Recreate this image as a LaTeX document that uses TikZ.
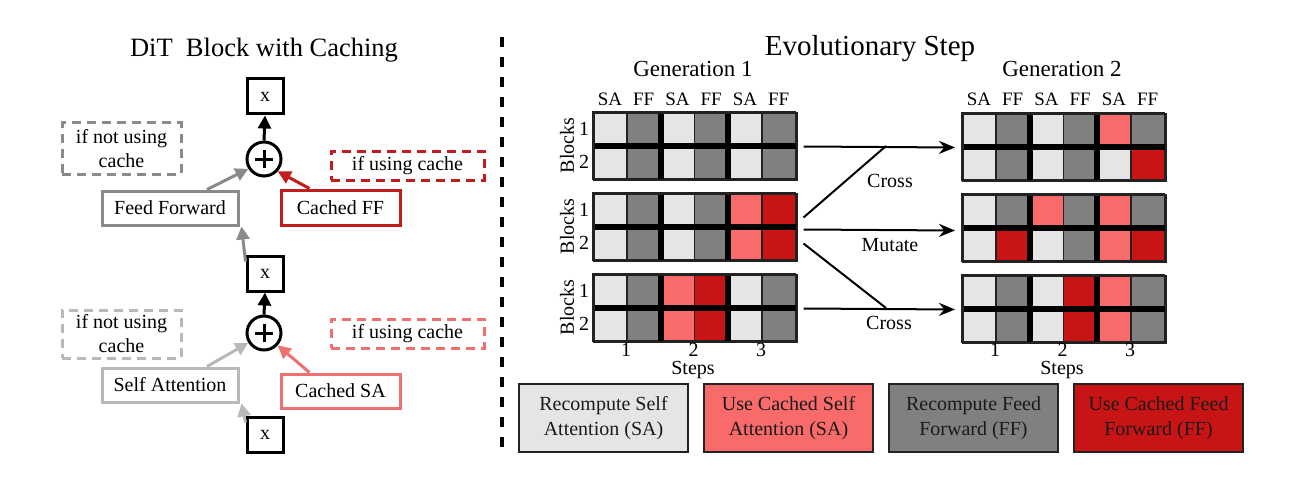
\documentclass[tikz,border=0pt]{standalone}
\usepackage{fontspec}
\setmainfont{Liberation Serif}
\usetikzlibrary{arrows.meta,calc}
\definecolor{cLG}{HTML}{E5E5E5}
\definecolor{cDG}{HTML}{808080}
\definecolor{cLR}{HTML}{F96B6B}
\definecolor{cDR}{HTML}{C81414}
\definecolor{bGray}{HTML}{8A8A8A}
\definecolor{bLGray}{HTML}{B8B8B8}
\definecolor{bRed}{HTML}{C21C1C}
\definecolor{bLRed}{HTML}{EE7070}
\definecolor{gridline}{HTML}{222222}
\definecolor{legtxt}{HTML}{1A1A1A}
\newcommand{\mygrid}[5]{%
 \foreach \c [count=\i from 0] in {#4} {\filldraw[fill=\c, draw=gridline, line width=1.5] ({#2+\i*33.75},{#3}) rectangle ++(33.75,33.5);}
 \foreach \c [count=\i from 0] in {#5} {\filldraw[fill=\c, draw=gridline, line width=1.5] ({#2+\i*33.75},{#3+33.5}) rectangle ++(33.75,33.5);}
 \draw[line width=6] (#2,#3+33.5) -- ++(202.5,0);
 \draw[line width=6] ({#2+67.5},#3) -- ++(0,67);
 \draw[line width=6] ({#2+135},#3) -- ++(0,67);
 \node[draw=gridline, line width=2, minimum width=202.5, minimum height=67, inner sep=0, anchor=north west] (#1) at (#2,#3) {};
}
\begin{document}
\begin{tikzpicture}[x=1pt,y=-1pt,
  txt/.style={font=\fontsize{20}{24}\selectfont, inner sep=0},
  xbox/.style={draw, line width=3, minimum width=36, minimum height=35, inner sep=0, font=\fontsize{20}{24}\selectfont},
  plusc/.style={draw, circle, line width=3, minimum size=34, inner sep=0},
  opbox/.style={draw, line width=3, inner sep=0, font=\fontsize{20}{24}\selectfont, align=center},
  condbox/.style={draw, line width=3, dash pattern=on 9 off 6, inner sep=0, font=\fontsize{20}{24}\selectfont, align=center},
  larrow/.style={line width=3, -{Triangle[length=13,width=13]}},
  evo/.style={line width=2, -{Stealth[length=16,width=13]}},
  evol/.style={line width=2},
  legbox/.style={draw=gridline, line width=2, minimum width=169, minimum height=68, inner sep=0, align=center, text=legtxt, font=\fontsize{20}{25}\selectfont},
  hdr/.style={font=\fontsize{19}{22}\selectfont, inner sep=0},
]
\useasboundingbox (0,0) rectangle (1300,492);
\fill[white] (0,0) rectangle (1300,492);

% ---------------- left panel ----------------
\node[font=\fontsize{26.5}{30}\selectfont, anchor=base, inner sep=0] (ltitle) at (264,57) {DiT\ \ Block with Caching};

\node[xbox] (topx) at (265,96.5) {x};
\node[plusc] (p1) at (264,159) {};
\draw[line width=3] ([xshift=-9]p1.center) -- ([xshift=9]p1.center) ([yshift=-9]p1.center) -- ([yshift=9]p1.center);
\node[condbox, draw=bGray, minimum width=119, minimum height=51] (nc1) at (121.5,148.5) {if not using\\cache};
\node[condbox, draw=bRed, minimum width=153, minimum height=29] (uc1) at (407.5,165.5) {if using cache};
\node[opbox, draw=bGray, minimum width=136, minimum height=34] (ff) at (170,208) {Feed Forward};
\node[opbox, draw=bRed, minimum width=119, minimum height=35] (cff) at (340.5,207.5) {Cached FF};
\node[xbox] (midx) at (265,273.5) {x};
\node[plusc] (p2) at (264,333) {};
\draw[line width=3] ([xshift=-9]p2.center) -- ([xshift=9]p2.center) ([yshift=-9]p2.center) -- ([yshift=9]p2.center);
\node[condbox, draw=bLGray, minimum width=119, minimum height=48] (nc2) at (121.5,334) {if not using\\cache};
\node[condbox, draw=bLRed, minimum width=153, minimum height=29] (uc2) at (407.5,333.5) {if using cache};
\node[opbox, draw=bLGray, minimum width=136, minimum height=34] (sa) at (170,385) {Self Attention};
\node[opbox, draw=bLRed, minimum width=119, minimum height=34] (csa) at (340.5,391) {Cached SA};
\node[xbox] (botx) at (265,434.5) {x};

\draw[larrow] (p1.north) -- (topx.south);
\draw[larrow, bGray] ([xshift=37]ff.north) -- (p1.212);
\draw[larrow, bRed] ([xshift=-31]cff.north) -- (p1.-42);
\draw[larrow, bGray] ([yshift=-7]midx.north west) -- ([xshift=2]ff.south east);
\draw[larrow] (p2.north) -- (midx.south);
\draw[larrow, bLGray] ([xshift=37]sa.north) -- (p2.212);
\draw[larrow, bLRed] ([xshift=-31]csa.north) -- (p2.-42);
\draw[larrow, bLGray] ([yshift=-7]botx.north west) -- ([xshift=2]sa.south east);

% divider
\draw[line width=3.5, dash pattern=on 10 off 10] (502,37) -- (502,452);

% ---------------- right panel ----------------
\node[font=\fontsize{29}{33}\selectfont, anchor=base, inner sep=0] (rtitle) at (870,56) {Evolutionary Step};
\node[font=\fontsize{23}{27}\selectfont, anchor=base, inner sep=0] (gen1) at (693,77) {Generation 1};
\node[font=\fontsize{23}{27}\selectfont, anchor=base, inner sep=0] (gen2) at (1062,77) {Generation 2};

\foreach \t [count=\i from 0] in {SA,FF,SA,FF,SA,FF} {
  \node[hdr, anchor=base] (ha\i) at ({593+16.9+\i*33.75},106) {\t};
  \node[hdr, anchor=base] (hb\i) at ({962+16.9+\i*33.75},106) {\t};
}

\mygrid{g11}{593}{112}{cLG,cDG,cLG,cDG,cLG,cDG}{cLG,cDG,cLG,cDG,cLG,cDG}
\mygrid{g12}{593}{193}{cLG,cDG,cLG,cDG,cLR,cDR}{cLG,cDG,cLG,cDG,cLR,cDR}
\mygrid{g13}{593}{274}{cLG,cDG,cLR,cDR,cLG,cDG}{cLG,cDG,cLR,cDR,cLG,cDG}
\mygrid{g21}{962}{113}{cLG,cDG,cLG,cDG,cLR,cDG}{cLG,cDG,cLG,cDG,cLG,cDR}
\mygrid{g22}{962}{194}{cLG,cDG,cLR,cDG,cLR,cDG}{cLG,cDR,cLG,cDG,cLR,cDR}
\mygrid{g23}{962}{275}{cLG,cDG,cLG,cDR,cLR,cDG}{cLG,cDG,cLG,cDR,cLR,cDG}

\foreach \g/\yc in {1/145.5,2/226.5,3/307.5} {
  \node[txt, rotate=90] (bl\g) at (567,\yc) {Blocks};
  \node[txt] (ra\g) at (584,\yc-16.5) {1};
  \node[txt] (rb\g) at (584,\yc+16.5) {2};
}

\foreach \s [count=\i from 0] in {1,2,3} {
  \node[txt, anchor=base] (sa\i) at ({626+\i*67.5},356) {\s};
  \node[txt, anchor=base] (sb\i) at ({995+\i*67.5},356) {\s};
}
\node[txt, anchor=base] (steps1) at (693,374) {Steps};
\node[txt, anchor=base] (steps2) at (1062,374) {Steps};

% evolution arrows
\coordinate (c1) at (886,146);
\coordinate (c3) at (886,308);
\draw[evo] ([xshift=6]g11.east) -- ([xshift=-7]g21.west);
\draw[evo] ([xshift=6,yshift=-2]g12.east) -- ([xshift=-7,yshift=-2]g22.west);
\draw[evo] ([xshift=6]g13.east) -- ([xshift=-7]g23.west);
\draw[evol] ([xshift=6,yshift=10]g12.east) -- (c1);
\draw[evol] ([xshift=6,yshift=-16]g12.east) -- (c3);
\node[txt] (cross1) at (890,181) {Cross};
\node[txt] (mut) at (890,245) {Mutate};
\node[txt] (cross2) at (889,323) {Cross};

% legend
\node[legbox, fill=cLG] (l1) at (603.5,418) {Recompute Self\\Attention (SA)};
\node[legbox, fill=cLR] (l2) at (788.5,418) {Use Cached Self\\Attention (SA)};
\node[legbox, fill=cDG] (l3) at (973.5,418) {Recompute Feed\\Forward (FF)};
\node[legbox, fill=cDR] (l4) at (1158.5,418) {Use Cached Feed\\Forward (FF)};
\end{tikzpicture}
\end{document}
